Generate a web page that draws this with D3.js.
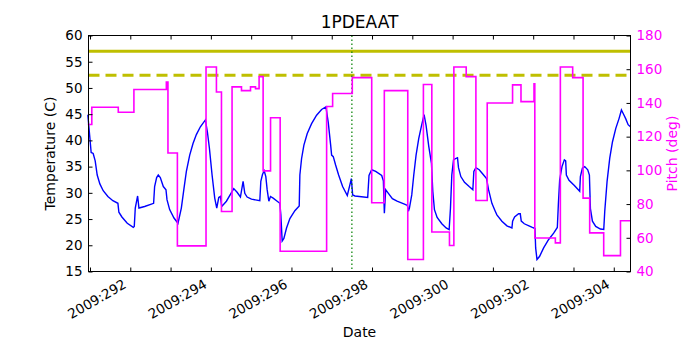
<!DOCTYPE html>
<html>
<head>
<meta charset="utf-8">
<script src="https://cdn.jsdelivr.net/npm/d3@7"></script>
<style>
  body { margin: 0; background: #fff; }
  svg { font-family: "DejaVu Sans", sans-serif; }
</style>
</head>
<body>
<div id="chart"></div>
<script>
// 温度曲线 (day of year, deg C)
const tempDays = [290.946, 291.029, 291.079, 291.129, 291.179, 291.245, 291.328, 291.444, 291.568, 291.693,
  291.717, 291.792, 291.925, 292.074, 292.099, 292.124, 292.182, 292.215, 292.356, 292.579,
  292.604, 292.654, 292.695, 292.745, 292.820, 292.886, 292.911, 292.977, 293.085, 293.184,
  293.267, 293.334, 293.392, 293.475, 293.557, 293.640, 293.740, 293.864, 293.914, 293.964,
  294.030, 294.096, 294.146, 294.196, 294.237, 294.270, 294.386, 294.568, 294.651, 294.734,
  294.800, 294.842, 294.900, 295.008, 295.215, 295.240, 295.281, 295.323, 295.364, 295.397,
  295.439, 295.480, 295.546, 295.646, 295.712, 295.737, 295.770, 295.812, 295.878, 295.961,
  296.085, 296.193, 296.209, 296.251, 296.309, 296.392, 296.500, 296.624, 296.748, 296.856,
  296.914, 296.972, 296.997, 297.038, 297.096, 297.171, 297.270, 297.386, 297.453, 297.486,
  297.519, 297.577, 297.892, 297.925, 297.991, 298.091, 298.240, 298.281, 298.306, 298.339,
  298.406, 298.505, 298.621, 298.820, 298.878, 298.903, 298.928, 298.986, 299.036, 299.093,
  299.160, 299.234, 299.292, 299.342, 299.409, 299.475, 299.508, 299.549, 299.616, 299.732,
  299.839, 299.914, 299.947, 299.980, 300.022, 300.063, 300.121, 300.146, 300.204, 300.295,
  300.411, 300.502, 300.527, 300.577, 300.660, 300.759, 300.842, 300.892, 300.975, 301.058,
  301.099, 301.223, 301.348, 301.472, 301.489, 301.538, 301.638, 301.679, 301.704, 301.779,
  301.895, 301.978, 302.044, 302.061, 302.094, 302.160, 302.259, 302.384, 302.508, 302.599,
  302.624, 302.657, 302.715, 302.773, 302.806, 302.823, 302.889, 303.022, 303.154, 303.171,
  303.221, 303.279, 303.354, 303.395, 303.420, 303.470, 303.552, 303.668, 303.751, 303.776,
  303.834, 303.900, 303.967, 304.050, 304.132, 304.190, 304.249, 304.298, 304.356, 304.414];
const tempVals = [44.9, 37.7, 37.5, 36.1, 33.4, 31.7, 30.4, 29.3, 28.5, 28.0,
  26.3, 25.4, 24.2, 23.4, 23.6, 27.1, 29.4, 27.1, 27.4, 28.0,
  31.2, 32.9, 33.4, 32.9, 31.2, 30.6, 28.7, 26.8, 25.2, 24.2,
  27.1, 30.9, 34.1, 37.2, 39.4, 41.1, 42.6, 43.9, 41.6, 38.5,
  33.4, 29.0, 27.1, 29.1, 29.3, 27.4, 28.4, 30.8, 30.1, 29.2,
  32.2, 29.9, 29.2, 28.8, 28.5, 32.2, 33.5, 34.2, 33.1, 30.6,
  28.4, 29.3, 29.0, 28.4, 28.0, 25.8, 20.8, 21.3, 23.3, 25.1,
  26.6, 27.5, 33.4, 36.5, 39.1, 41.3, 43.2, 44.8, 45.9, 46.4,
  43.4, 39.2, 37.2, 36.9, 35.3, 33.4, 31.2, 29.5, 31.6, 32.7,
  29.6, 29.4, 29.1, 33.3, 34.4, 34.1, 33.3, 32.3, 26.1, 30.6,
  29.9, 28.9, 28.4, 27.8, 27.6, 26.5, 27.1, 29.6, 33.4, 37.2,
  40.4, 43.0, 44.9, 42.8, 38.8, 35.6, 30.3, 26.8, 25.3, 24.1,
  23.3, 23.0, 27.1, 33.4, 36.3, 36.5, 36.7, 34.8, 33.1, 32.0,
  31.2, 30.6, 34.1, 34.8, 34.4, 33.5, 32.7, 30.6, 28.0, 26.5,
  25.8, 24.6, 23.7, 23.3, 24.6, 25.4, 26.0, 26.0, 24.6, 24.1,
  23.7, 23.4, 23.2, 19.5, 17.3, 17.9, 19.5, 21.1, 22.3, 23.4,
  27.7, 32.5, 35.0, 36.3, 36.1, 33.4, 32.4, 31.4, 30.3, 33.1,
  34.7, 35.0, 34.4, 33.4, 27.0, 24.6, 23.6, 23.1, 23.0, 26.5,
  32.2, 36.6, 39.7, 42.3, 44.2, 45.8, 44.9, 44.1, 43.0, 42.6];

// 俯仰角 阶梯 (day of year, deg)
const pitchDays = [290.946, 291.045, 291.702, 292.090, 292.895, 292.935, 293.169, 293.880, 294.138, 294.263,
  294.526, 294.760, 294.984, 295.108, 295.197, 295.297, 295.481, 295.720, 296.873, 297.022,
  297.510, 297.992, 298.305, 298.887, 299.275, 299.484, 299.922, 300.031, 300.337, 300.578,
  300.859, 301.488, 301.697, 302.020, 302.040, 302.550, 302.674, 302.980, 303.238, 303.402,
  303.750, 304.166, 304.415];
const pitchVals = [127.2, 137.4, 134.5, 148.0, 152.4, 110.3, 55.2, 161.3, 146.5, 75.6,
  149.5, 147.3, 149.5, 148.5, 155.6, 99.7, 131.2, 52.0, 137.9, 145.6,
  155.0, 80.8, 147.3, 47.1, 150.9, 63.4, 55.4, 161.3, 155.6, 82.1,
  140.0, 150.7, 140.8, 151.4, 59.9, 57.0, 161.3, 155.0, 83.5, 62.9,
  49.4, 70.1, 70.1];

const limitVals = [57, 52.4];      // 实线, 虚线
const markerDay = 297.5;
const dayTicks = d3.range(291, 305);
const dayDomain = [290.963, 304.415];

const W = 700, H = 350;
const m = { left: 88.5, top: 35.5, right: 69.5, bottom: 78.5 };
const iw = W - m.left - m.right, ih = H - m.top - m.bottom;

const svg = d3.select('#chart').append('svg').attr('width', W).attr('height', H);
const g = svg.append('g').attr('transform', 'translate(' + m.left + ',' + m.top + ')');

const x = d3.scaleLinear().domain(dayDomain).range([0, iw]);
const yT = d3.scaleLinear().domain([15, 60]).range([ih, 0]);
const yP = d3.scaleLinear().domain([40, 180]).range([ih, 0]);

// 温度线
g.append('path')
  .datum(d3.zip(tempDays, tempVals))
  .attr('fill', 'none')
  .attr('stroke', '#0000ff')
  .attr('stroke-width', 1.4)
  .attr('d', d3.line().x(d => x(d[0])).y(d => yT(d[1])));

// 限值线
g.selectAll('.limit').data(limitVals).enter().append('line')
  .attr('x1', 0).attr('x2', iw)
  .attr('y1', d => yT(d)).attr('y2', d => yT(d))
  .attr('stroke', '#bfbf00')
  .attr('stroke-width', 3)
  .attr('stroke-dasharray', (d, i) => i ? '11,6' : null);

// 当前时刻
g.append('line')
  .attr('x1', x(markerDay)).attr('x2', x(markerDay))
  .attr('y1', 0).attr('y2', ih)
  .attr('stroke', '#008000')
  .attr('stroke-width', 1.2)
  .attr('stroke-dasharray', '1.5,2.5');

// 俯仰角
g.append('path')
  .datum(d3.zip(pitchDays, pitchVals))
  .attr('fill', 'none')
  .attr('stroke', '#ff00ff')
  .attr('stroke-width', 1.6)
  .attr('d', d3.line().curve(d3.curveStepAfter).x(d => x(d[0])).y(d => yP(d[1])));

// 坐标框
g.append('rect').attr('width', iw).attr('height', ih)
  .attr('fill', 'none').attr('stroke', '#000').attr('stroke-width', 1);

// 刻度 (朝内)
function ticks(sel) {
  sel.select('.domain').remove();
  sel.selectAll('text').style('font-size', '13.5px').style('font-family', '"DejaVu Sans", sans-serif');
}
const xAxis = g.append('g').attr('transform', 'translate(0,' + ih + ')')
  .call(d3.axisBottom(x).tickValues(dayTicks).tickSizeInner(-4).tickSizeOuter(0)
    .tickFormat(d => d % 2 === 0 ? '2009:' + d : ''));
ticks(xAxis);
xAxis.selectAll('text')
  .attr('text-anchor', 'end')
  .attr('dy', 0).attr('y', 0)
  .attr('transform', 'translate(-3.5,15.5) rotate(-30)');
g.append('g')
  .call(d3.axisTop(x).tickValues(dayTicks).tickSizeInner(-4).tickSizeOuter(0).tickFormat(''))
  .call(ticks);

const yAxisL = g.append('g')
  .call(d3.axisLeft(yT).tickValues(d3.range(15, 61, 5)).tickSizeInner(-4).tickSizeOuter(0).tickPadding(6));
ticks(yAxisL);
yAxisL.selectAll('text').attr('fill', '#000');

const yAxisR = g.append('g').attr('transform', 'translate(' + iw + ',0)')
  .call(d3.axisRight(yP).tickValues(d3.range(40, 181, 20)).tickSizeInner(-4).tickSizeOuter(0).tickPadding(6));
ticks(yAxisR);
yAxisR.selectAll('text').attr('fill', '#ff00ff');
g.selectAll('.tick line').attr('stroke', '#000');

// 文字
svg.append('text').attr('x', m.left + iw / 2).attr('y', 28)
  .attr('text-anchor', 'middle').style('font-size', '17px').text('1PDEAAT');
svg.append('text').attr('x', m.left + iw / 2).attr('y', 337)
  .attr('text-anchor', 'middle').style('font-size', '14px').text('Date');
svg.append('text').attr('transform', 'translate(55,' + (m.top + ih / 2) + ') rotate(-90)')
  .attr('text-anchor', 'middle').style('font-size', '14px').text('Temperature (C)');
svg.append('text').attr('transform', 'translate(677,' + (m.top + ih / 2) + ') rotate(-90)')
  .attr('text-anchor', 'middle').attr('fill', '#ff00ff').style('font-size', '14px').text('Pitch (deg)');
</script>
</body>
</html>
